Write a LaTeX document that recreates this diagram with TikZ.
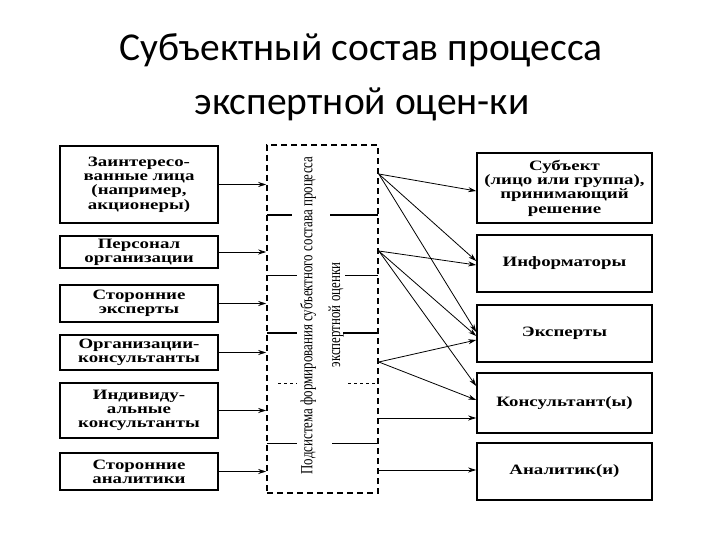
\documentclass[tikz,border=0pt]{standalone}
\usepackage{fontspec}
\usetikzlibrary{arrows.meta,calc}
\newfontfamily\titlefont{Carlito}
\newfontfamily\bxfont{Liberation Serif}[FakeStretch=1.32]
\newfontfamily\condfont{Liberation Serif}[FakeStretch=0.76]
\begin{document}
\begin{tikzpicture}[x=1pt,y=-1pt,
  box/.style={draw,line width=1.6pt,inner sep=0pt,align=center,
    font=\bxfont\bfseries\fontsize{14.3}{14.3}\selectfont},
  lbox/.style={box,minimum width=158pt},
  rbox/.style={box,minimum width=175pt},
  arr/.style={-{Stealth[length=8pt,width=5pt]},line width=0.8pt},
  inner/.style={line width=#1},
  ttl/.style={font=\titlefont\fontsize{39.5}{46}\selectfont,anchor=base}]
\useasboundingbox[fill=white] (0,0) rectangle (720,540);

% title
\node[ttl] (t1) at (361,61) {Субъектный состав процесса};
\node[ttl] (t2) at (362,115) {экспертной оцен-ки};

% left boxes
\node[lbox,minimum height=77pt] (L1) at (139,184.5) {Заинтересо-\\ванные лица\\(например,\\акционеры)};
\node[lbox,minimum height=32pt] (L2) at (139,252) {Персонал\\организации};
\node[lbox,minimum height=37pt] (L3) at (139,303.5) {Сторонние\\эксперты};
\node[lbox,minimum height=35pt] (L4) at (139,352.5) {Организации-\\консультанты};
\node[lbox,minimum height=55pt] (L5) at (139,410.5) {Индивиду-\\альные\\консультанты};
\node[lbox,minimum height=37pt] (L6) at (139,471.5) {Сторонние\\аналитики};

% middle dashed box
\node[draw,line width=1.6pt,dash pattern=on 6pt off 4pt,minimum width=111pt,minimum height=348pt,inner sep=0pt] (M) at (322.5,319) {};
\node[rotate=90,font=\condfont\fontsize{17}{17}\selectfont,inner sep=0pt] (s1) at (308,315.5) {Подсистема формирования субъектного состава процесса};
\node[rotate=90,font=\condfont\fontsize{17}{17}\selectfont,inner sep=0pt] (s2) at (336,315) {экспертной оценки};

% inner partial lines
\draw[inner=1.6pt] (267,215) -- (292,215) (330,215) -- (378,215);
\draw[inner=0.8pt] (267,275) -- (297,275) (345,275) -- (378,275);
\draw[inner=1.6pt] (267,333) -- (297,333) (343,333) -- (378,333);
\draw[inner=0.8pt,dashed] (278,383) -- (297,383) (348,383) -- (378,383);
\draw[inner=0.8pt] (267,443) -- (297,443) (332,443) -- (378,443);

% right boxes
\node[rbox,minimum height=70pt] (R1) at (564.5,188) {Субъект\\(лицо или группа),\\принимающий\\решение};
\node[rbox,minimum height=57pt] (R2) at (564.5,263.5) {Информаторы};
\node[rbox,minimum height=57pt] (R3) at (564.5,333.5) {Эксперты};
\node[rbox,minimum height=60pt] (R4) at (564.5,403) {Консультант(ы)};
\node[rbox,minimum height=57pt] (R5) at (564.5,471.5) {Аналитик(и)};

% left arrows
\foreach \n in {L1,L2,L3,L4,L5,L6}
  \draw[arr] (\n.east) -- (\n.east -| M.west);

% sources on the dashed box
\coordinate (a) at ($(M.east)+(0,-145)$);
\coordinate (b) at ($(M.east)+(0,-68)$);
\coordinate (c) at ($(M.east)+(0,43)$);
\coordinate (d) at ($(M.east)+(0,99)$);
\coordinate (e) at ($(M.east)+(0,151)$);

\draw[arr] (a) -- ($(R1.west)+(0,3)$);
\draw[arr] (a) -- ($(R2.west)+(0,-2.5)$);
\draw[arr] (a) -- ($(R3.west)+(0,-1.5)$);
\draw[arr] (b) -- ($(R2.west)+(0,1.5)$);
\draw[arr] (b) -- ($(R3.west)+(0,2.5)$);
\draw[arr] (b) -- ($(R4.west)+(0,-17)$);
\draw[arr] (c) -- ($(R3.west)+(0,6.5)$);
\draw[arr] (c) -- ($(R4.west)+(0,-3)$);
\draw[arr] (d) -- ($(R4.west)+(0,15)$);
\draw[arr] (e) -- ($(R5.west)+(0,-1.5)$);
\end{tikzpicture}
\end{document}
